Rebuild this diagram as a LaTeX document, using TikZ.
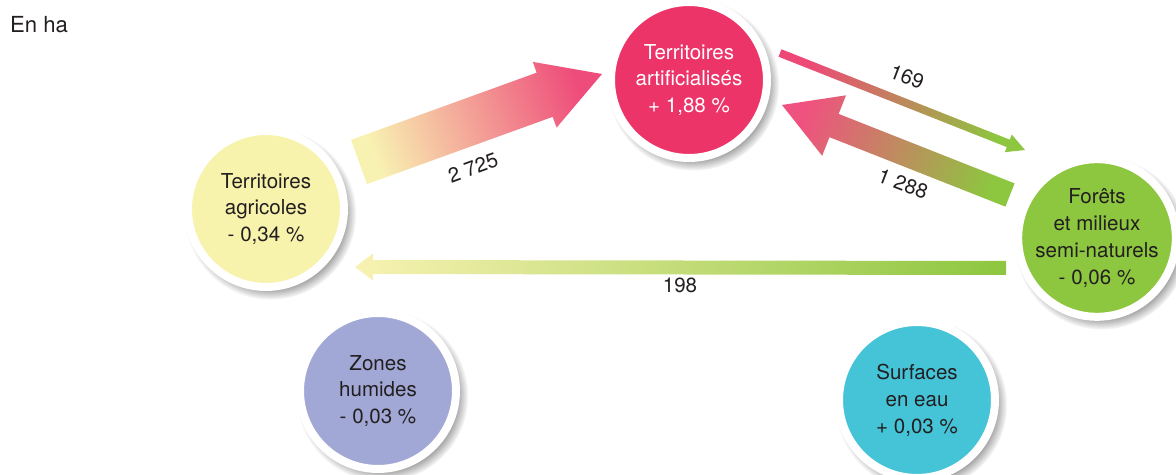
\documentclass[tikz,border=0pt]{standalone}
\usepackage{fontspec}
\setmainfont{TeX Gyre Heros}
\usetikzlibrary{calc,shadows}
\definecolor{agrijaune}{RGB}{248,243,172}
\definecolor{artirose}{RGB}{236,52,104}
\definecolor{foretvert}{RGB}{141,198,63}
\definecolor{humideviolet}{RGB}{161,168,214}
\definecolor{eaucyan}{RGB}{69,196,216}
\definecolor{textenoir}{RGB}{35,31,32}
\definecolor{palejaune}{RGB}{248,242,178}
% flux: tail, tip, half shaft, half head, head length, tail colour, head colour, shading angle
\newcommand{\flux}[8]{%
  \coordinate (hb) at ($(#2)!#5!(#1)$);
  \shade[bottom color=#6, top color=#7, shading angle=#8]
    ($(#1)!#3!90:(#2)$) -- ($(hb)!#3!-90:(#1)$) -- ($(hb)!#4!-90:(#1)$) -- (#2)
    -- ($(hb)!#4!90:(#1)$) -- ($(hb)!#3!90:(#1)$) -- ($(#1)!#3!-90:(#2)$) -- cycle;}

\begin{document}
\begin{tikzpicture}[
        x=0.02cm, y=-0.02cm,
        zone/.style={circle, draw=white, line width=0.16cm, minimum size=3.12cm, inner sep=0pt, align=center,
            font=\fontsize{11.7}{15.3}\selectfont, text=textenoir,
            circular drop shadow={shadow xshift=0.08cm, shadow yshift=-0.09cm, shadow scale=1.1, fill=black!75, opacity=0.55}},
        lbl/.style={font=\fontsize{11.7}{14}\selectfont, text=textenoir, inner sep=1pt}
    ]
        \useasboundingbox (0,0) rectangle (1176,475);
        \node[lbl, anchor=west, font=\fontsize{12.6}{14}\selectfont] (unite) at (8,25) {En ha};
        % zones
        \node[zone, fill=agrijaune] (agri) at (266,209) {Territoires\\agricoles\\- 0,34 \%};
        \node[zone, fill=artirose, text=white] (arti) at (689,80) {Territoires\\artificialisés\\+ 1,88 \%};
        \node[zone, fill=foretvert] (foret) at (1097,238) {Forêts\\et milieux\\semi-naturels\\- 0,06 \%};
        \node[zone, fill=humideviolet] (humide) at (378,391) {Zones\\humides\\- 0,03 \%};
        \node[zone, fill=eaucyan] (eau) at (917,400) {Surfaces\\en eau\\+ 0,03 \%};
        % ends of the flows
        \coordinate (t1) at ($(agri)+(93,-47)$);
        \coordinate (h1) at ($(arti)+(-87,-6)$);
        \coordinate (t2) at ($(arti)+(91,-27)$);
        \coordinate (h2) at ($(foret)+(-72,-88)$);
        \coordinate (t3) at ($(foret)+(-87,-43)$);
        \coordinate (h3) at ($(arti)+(93,25)$);
        \coordinate (t4) at ($(foret)+(-91,30)$);
        \coordinate (h4) at ($(agri)+(89,58)$);
        \flux{t1}{h1}{0.47cm}{0.70cm}{1.22cm}{palejaune}{artirose!88!white}{-70}
        \flux{t2}{h2}{0.08cm}{0.19cm}{0.36cm}{artirose!90!white}{foretvert}{-111.6}
        \flux{t3}{h3}{0.25cm}{0.65cm}{1.12cm}{foretvert}{artirose!85!white}{68.5}
        \flux{t4}{h4}{0.14cm}{0.27cm}{0.36cm}{foretvert}{palejaune}{90}
        % values
        \node[lbl, rotate=20] (v1) at (473,168) {2 725};
        \node[lbl, rotate=-21] (v2) at (907,77) {169};
        \node[lbl, rotate=-21] (v3) at (903,184) {1 288};
        \node[lbl] (v4) at (680,285) {198};
    \end{tikzpicture}
\end{document}
